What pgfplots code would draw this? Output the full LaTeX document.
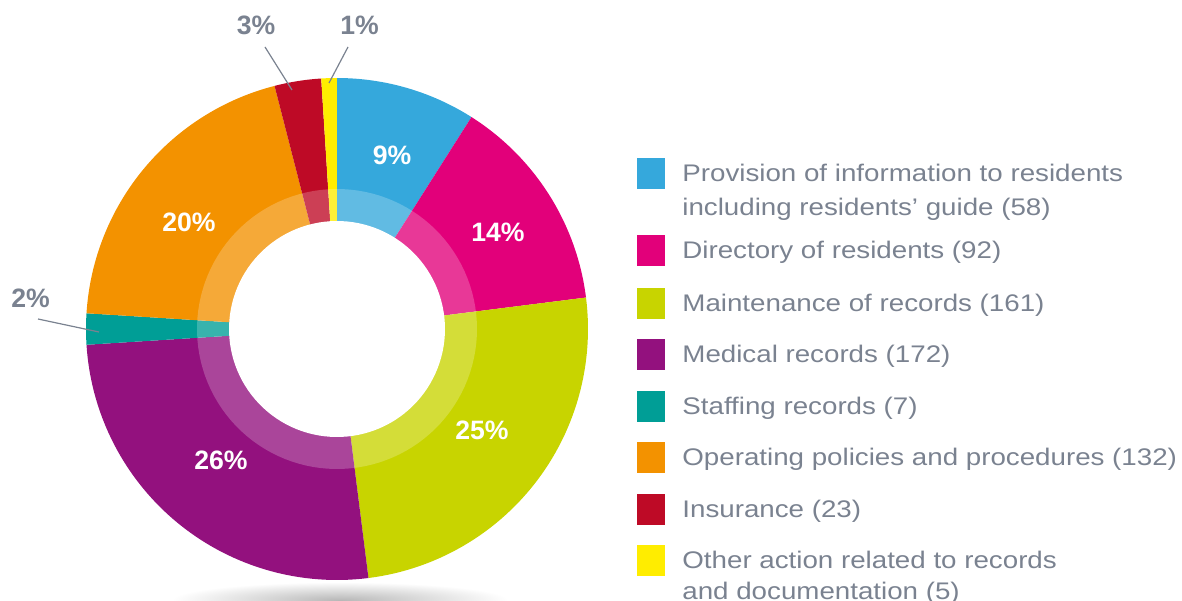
\documentclass[border=0pt]{standalone}
\usepackage{pgfplots}
\pgfplotsset{compat=1.18}
\usepackage{pgfplotstable}
\usepackage{fontspec}
\setmainfont{Liberation Sans}
\newfontfamily\legfont[FakeStretch=1.155]{Liberation Sans}

\definecolor{slice0}{HTML}{35A8DC}
\definecolor{slice1}{HTML}{E2007A}
\definecolor{slice2}{HTML}{C8D400}
\definecolor{slice3}{HTML}{93117E}
\definecolor{slice4}{HTML}{009E96}
\definecolor{slice5}{HTML}{F39200}
\definecolor{slice6}{HTML}{BE0A26}
\definecolor{slice7}{HTML}{FFED00}
\definecolor{txtgray}{HTML}{7A8290}

% share in percent per category, clockwise from 12 o'clock
\pgfplotstableread{
pct
9
14
25
26
2
20
3
1
}\datatable

\begin{document}
\begin{tikzpicture}
\begin{axis}[hide axis,scale only axis,width=591pt,height=300pt,
 xmin=0,xmax=1182,ymin=0,ymax=600,clip=false]
\coordinate (bl) at (axis cs:0,0);
\coordinate (tr) at (axis cs:1182,600);

% soft shadow under the ring
\shade[inner color=black!28,outer color=white] (axis cs:340,0) ellipse[x radius=84pt,y radius=9pt];

% total
\def\total{0}
\pgfplotsforeachungrouped \i in {0,...,7}{%
  \pgfplotstablegetelem{\i}{pct}\of\datatable
  \pgfmathsetmacro\total{\total+\pgfplotsretval}%
}
% wedges
\def\startang{90}
\pgfplotsforeachungrouped \i in {0,...,7}{%
  \pgfplotstablegetelem{\i}{pct}\of\datatable
  \pgfmathsetmacro\endang{\startang-\pgfplotsretval/\total*360}%
  \edef\temp{\noexpand\addplot[fill=slice\i,draw=none,domain=\endang:\startang,samples=60]
    ({337+251*cos(x)},{271+251*sin(x)}) -- (axis cs:337,271) -- cycle;}%
  \temp
  \global\let\startang\endang
}
% lighter inner band and hole
\addplot[fill=white,fill opacity=0.22,draw=none,domain=0:360,samples=120]
  ({337+140*cos(x)},{271+140*sin(x)}) -- cycle;
\addplot[fill=white,draw=none,domain=0:360,samples=120]
  ({337+108*cos(x)},{271+108*sin(x)}) -- cycle;

% percentage labels
\tikzset{pct/.style={font=\bfseries\fontsize{13.3}{14}\selectfont,inner sep=0pt,text=white}}
\node[pct] at (axis cs:392,444.5) {9\%};
\node[pct] at (axis cs:498,368) {14\%};
\node[pct] at (axis cs:482,170) {25\%};
\node[pct] at (axis cs:221,140) {26\%};
\node[pct] at (axis cs:189,378) {20\%};
\node[pct,text=txtgray] at (axis cs:256,574.5) {3\%};
\node[pct,text=txtgray] at (axis cs:359.5,574.5) {1\%};
\node[pct,text=txtgray] at (axis cs:30.5,302) {2\%};
\draw[txtgray,line width=0.6pt] (axis cs:265,553) -- (axis cs:292,510);
\draw[txtgray,line width=0.6pt] (axis cs:348,553) -- (axis cs:329,517);
\draw[txtgray,line width=0.6pt] (axis cs:38,281) -- (axis cs:99,268);

% legend
\tikzset{leg/.style={anchor=base west,inner sep=0pt,text=txtgray,font=\legfont\fontsize{12}{17}\selectfont}}
\newcommand\legitem[3]{%
  \fill[#1] (axis cs:637,{600-#2+23.5}) rectangle (axis cs:665,{600-#2-7.5});
  \node[leg] at (axis cs:682,{600-#2}) {#3};}
\legitem{slice0}{182}{Provision of information to residents}
\node[leg] at (axis cs:682,384) {including residents’ guide (58)};
\legitem{slice1}{259}{Directory of residents (92)}
\legitem{slice2}{312}{Maintenance of records (161)}
\legitem{slice3}{363}{Medical records (172)}
\legitem{slice4}{414}{Staffing records (7)}
\legitem{slice5}{465}{Operating policies and procedures (132)}
\legitem{slice6}{517}{Insurance (23)}
\legitem{slice7}{568}{Other action related to records}
\node[leg] at (axis cs:682,1) {and documentation (5)};
\end{axis}
\pgfresetboundingbox
\path[use as bounding box] (bl) rectangle (tr);
\end{tikzpicture}
\end{document}
